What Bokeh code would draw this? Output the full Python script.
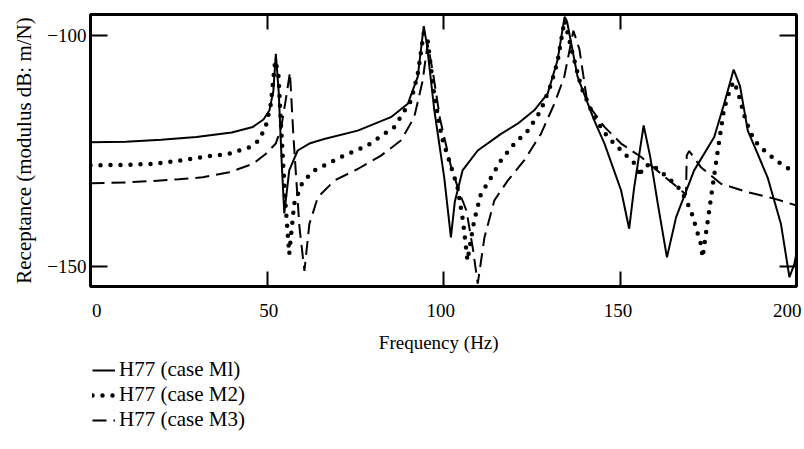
from bokeh.plotting import figure
from bokeh.layouts import column
from bokeh.models import Range1d, LinearAxis, FixedTicker, Legend, LegendItem
from bokeh.embed import file_html
from bokeh.resources import INLINE

# ---- data ----
freq_m1 = [0, 10, 20, 30, 40, 46, 49, 50.7, 51.8, 52.5, 53.3, 54.2, 54.9, 56.3, 58.7,
           62, 66.2, 75.7, 85.1, 89.9, 92.7, 94.4, 95.3, 97.4, 100.2, 102.1, 103.2, 105.4,
           109.7, 116.3, 121, 125.7, 129.5, 132.3, 134.3, 135, 138, 142.7, 145.6, 150.3,
           152.6, 154, 156.7, 158.5, 160.7, 163.3, 165.9, 171, 176.7, 179.5, 182.2, 184,
           186.2, 191.8, 195.6, 198, 199.4, 200]
rec_m1 = [-123.1, -123.0, -122.6, -122.0, -121.0, -119.8, -118.2, -116.2, -112.0, -104.0,
          -112.0, -128.0, -138.5, -129.2, -124.9, -123.4, -122.4, -120.6, -117.7, -114.8,
          -109.0, -98.0, -102.0, -116.2, -130.7, -143.7, -136.0, -129.2, -124.9, -121.3,
          -119.1, -116.2, -112.6, -105.4, -96.0, -97.0, -109.0, -118.4, -123.4, -133.5,
          -141.8, -133.0, -119.5, -126.0, -136.4, -148.0, -139.3, -129.2, -122.0, -114.8,
          -107.4, -111.0, -120.6, -130.7, -140.8, -152.3, -149.4, -147.0]

freq_m2 = [0, 10, 17.6, 25, 31.8, 39.3, 45, 47.8, 49.7, 51.1, 52.3, 53.2, 54, 55.2, 56.3,
           57.7, 60.1, 63.4, 71, 78.5, 86.1, 90.8, 92.7, 94.4, 95.5, 97.4, 99.5, 102, 104,
           105.5, 106.8, 108.7, 110.6, 113.5, 116.3, 120.1, 123.9, 127.6, 130.5, 132.3,
           134.3, 136.1, 139, 142.7, 146.5, 152.2, 154.5, 155.5, 156.5, 158.8, 163.5, 167.3,
           170.1, 172.9, 173.4, 175.8, 177.7, 179.5, 181.4, 182.3, 183.5, 185.6, 188, 191.8,
           195.6, 199.4, 200]
rec_m2 = [-128.1, -128.0, -127.8, -127.1, -126.3, -125.6, -124.2, -122.7, -119.5, -114.8,
          -105.5, -108.0, -120.0, -136.0, -147.3, -136.4, -131.7, -129.2, -126.3, -123.8,
          -119.8, -114.1, -108.4, -99.5, -101.0, -113.0, -122.0, -128.0, -133.0, -140.0,
          -148.7, -140.0, -134.3, -130.7, -127.0, -123.4, -120.6, -116.2, -110.5, -105.7,
          -96.8, -102.5, -111.2, -117.7, -122.0, -126.3, -128.0, -130.5, -128.5, -127.8,
          -130.7, -133.5, -137.9, -145.1, -148.0, -135.0, -124.9, -115.8, -111.2, -110.0,
          -112.5, -118.4, -122.7, -125.6, -127.8, -129.6, -129.8]

freq_m3 = [0, 10, 17.6, 25, 31.8, 39.3, 46, 49.7, 52.5, 54, 55.3, 56.5, 57.5, 59.2, 60.6,
           62, 64.4, 69.1, 75.7, 82.3, 88, 91.7, 94.1, 95.5, 97, 99, 102, 104.5, 106.5,
           108.3, 109.7, 111.6, 114.4, 118.2, 122.9, 127.6, 131.4, 134.2, 135.5, 136.8,
           138.5, 140.8, 145.6, 150.3, 156, 161.6, 167.3, 168.7, 168.9, 169.6, 172.9, 178.6,
           186.2, 193.7, 200]
rec_m3 = [-132.0, -131.8, -131.5, -131.1, -130.7, -129.6, -127.8, -125.6, -123.4, -120.0,
          -114.0, -108.0, -122.0, -141.5, -150.9, -140.8, -135.0, -131.4, -128.9, -126.0,
          -122.7, -117.7, -109.8, -101.8, -108.0, -118.0, -128.0, -134.0, -137.9, -146.0,
          -153.7, -143.7, -135.7, -131.4, -127.0, -121.3, -114.8, -109.0, -104.0, -99.0,
          -103.0, -114.8, -119.8, -123.4, -126.3, -129.9, -133.5, -134.5, -126.0, -125.0,
          -128.5, -132.1, -133.9, -135.3, -136.8]

series_labels = ["H77 (case Ml)", "H77 (case M2)", "H77 (case M3)"]

x_ticks = [0, 50, 100, 150, 200]
x_tick_labels = ["0", "50", "100", "150", "200"]
y_ticks = [-150, -100]
y_tick_labels = ["\u2212150", "\u2212100"]

x_title = "Frequency   (Hz)"
y_title = "Receptance (modulus dB: m/N)"

SERIF = "Liberation Serif"

# line styles for the three cases
styles = [dict(line_color="black", line_width=2),
          dict(line_color="black", line_width=4.5, line_dash="0 10", line_cap="round"),
          dict(line_color="black", line_width=2, line_dash="14 7")]

p = figure(width=804, height=358, output_backend="svg", toolbar_location=None,
           x_range=Range1d(0, 200), y_range=Range1d(-154.3, -95.5),
           x_axis_location=None, y_axis_location=None,
           min_border_left=90, min_border_right=8, min_border_top=14,
           min_border_bottom=72)
p.grid.visible = False
p.outline_line_color = "black"
p.outline_line_width = 3
p.background_fill_color = "white"
p.border_fill_color = "white"


def tick_axis(ticks, tick_len):
    # tick marks only (labels are not painted)
    return LinearAxis(ticker=FixedTicker(ticks=ticks), axis_line_color=None,
                      major_tick_in=tick_len, major_tick_out=0,
                      major_tick_line_width=2, major_tick_line_color="black",
                      minor_tick_line_color=None,
                      major_label_text_color=None, major_label_text_font_size="1px",
                      major_label_standoff=0)


# inward tick marks on all four sides
p.add_layout(tick_axis(x_ticks, 15), "below")
p.add_layout(tick_axis(x_ticks, 15), "above")
p.add_layout(tick_axis(y_ticks, 17), "right")

# left axis: ticks + labels + title
left = LinearAxis(ticker=FixedTicker(ticks=y_ticks), axis_line_color=None,
                  major_tick_in=17, major_tick_out=0, major_tick_line_width=2,
                  minor_tick_line_color=None,
                  major_label_overrides={t: s for t, s in zip(y_ticks, y_tick_labels)},
                  major_label_text_font=SERIF, major_label_text_font_size="19px",
                  major_label_text_color="black", major_label_standoff=4,
                  axis_label=y_title, axis_label_text_font=SERIF,
                  axis_label_text_font_style="normal", axis_label_text_font_size="21px",
                  axis_label_text_color="black", axis_label_standoff=8)
p.add_layout(left, "left")

# bottom labels (slightly nudged at the ends, as in the reference)
nudge = [1.8, 0.5, -0.8, -0.6, -2.6]
label_pos = [round(t + d, 2) for t, d in zip(x_ticks, nudge)]
bottom = LinearAxis(ticker=FixedTicker(ticks=label_pos), axis_line_color=None,
                    major_tick_line_color=None, major_tick_in=0, major_tick_out=0,
                    minor_tick_line_color=None,
                    major_label_overrides={t: s for t, s in zip(label_pos, x_tick_labels)},
                    major_label_text_font=SERIF, major_label_text_font_size="19px",
                    major_label_text_color="black", major_label_standoff=17,
                    axis_label=x_title, axis_label_text_font=SERIF,
                    axis_label_text_font_style="normal", axis_label_text_font_size="19px",
                    axis_label_text_color="black", axis_label_standoff=12)
p.add_layout(bottom, "below")

p.line(freq_m1, rec_m1, **styles[0])
p.line(freq_m2, rec_m2, **styles[1])
p.line(freq_m3, rec_m3, **styles[2])

# ---- legend strip underneath the chart (its frame lines up with the chart's) ----
lg = figure(width=804, height=91, output_backend="svg", toolbar_location=None,
            x_range=Range1d(0, 1), y_range=Range1d(0, 1),
            x_axis_location=None, y_axis_location=None,
            min_border=0, outline_line_color=None)
lg.grid.visible = False
lg.background_fill_color = "white"
lg.border_fill_color = "white"
nan = float("nan")
legend_renderers = [lg.line([nan], [nan], **st) for st in styles]

legend = Legend(items=[LegendItem(label=lab, renderers=[r])
                       for lab, r in zip(series_labels, legend_renderers)],
                location=(2, 17), orientation="vertical",
                border_line_color=None, background_fill_alpha=0,
                label_text_font=SERIF, label_text_font_size="21px",
                label_text_color="black",
                glyph_width=23, glyph_height=20, label_standoff=4, label_height=22,
                spacing=0, padding=0, margin=0)
lg.add_layout(legend)

layout = column(p, lg, spacing=0)
open("out.html", "w").write(file_html(layout, INLINE))
